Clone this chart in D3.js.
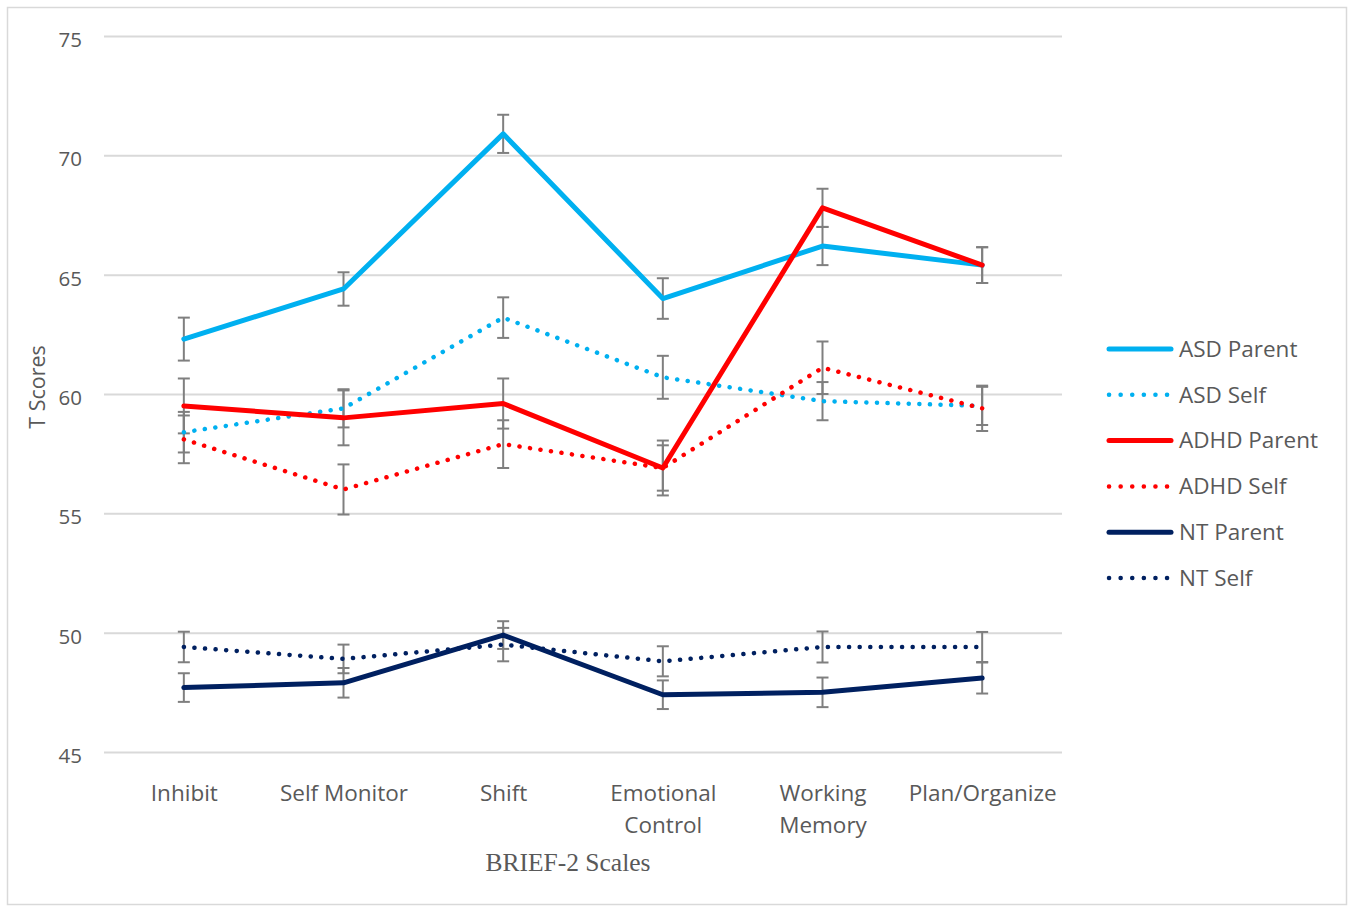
<!DOCTYPE html>
<html>
<head>
<meta charset="utf-8">
<script src="https://cdn.jsdelivr.net/npm/d3@7"></script>
<style>
  html, body { margin: 0; padding: 0; background: #fff; }
  svg { display: block; }
</style>
</head>
<body>
<svg id="chart" width="1353" height="908"></svg>
<script>
// BRIEF-2 T scores by group and informant
const categories = [["Inhibit"], ["Self Monitor"], ["Shift"], ["Emotional", "Control"], ["Working", "Memory"], ["Plan/Organize"]];
const seriesNames = ["ASD Parent", "ASD Self", "ADHD Parent", "ADHD Self", "NT Parent", "NT Self"];

const asdParent   = [62.3, 64.4, 70.9, 64.0, 66.2, 65.4];
const asdSelf     = [58.4, 59.4, 63.2, 60.7, 59.7, 59.5];
const adhdParent  = [59.5, 59.0, 59.6, 56.9, 67.8, 65.4];
const adhdSelf    = [58.1, 56.0, 57.9, 56.9, 61.1, 59.4];
const ntParent    = [47.7, 47.9, 49.9, 47.4, 47.5, 48.1];
const ntSelf      = [49.4, 48.9, 49.5, 48.8, 49.4, 49.4];

// error bar half-widths (± T score)
const asdParentErr  = [0.9, 0.7, 0.8, 0.85, 0.8, 0.75];
const asdSelfErr    = [0.85, 0.8, 0.85, 0.9, 0.8, 0.8];
const adhdParentErr = [1.15, 1.15, 1.05, 1.15, 0.8, 0.75];
const adhdSelfErr   = [1.0, 1.05, 1.0, 0.95, 1.1, 0.95];
const ntParentErr   = [0.6, 0.62, 0.58, 0.6, 0.62, 0.65];
const ntSelfErr     = [0.64, 0.6, 0.7, 0.63, 0.65, 0.63];

const yTicks = [45, 50, 55, 60, 65, 70, 75];

const series = [
  { name: seriesNames[0], values: asdParent,  err: asdParentErr,  color: "#00B0F0", dotted: false },
  { name: seriesNames[1], values: asdSelf,    err: asdSelfErr,    color: "#00B0F0", dotted: true },
  { name: seriesNames[2], values: adhdParent, err: adhdParentErr, color: "#FF0000", dotted: false },
  { name: seriesNames[3], values: adhdSelf,   err: adhdSelfErr,   color: "#FF0000", dotted: true },
  { name: seriesNames[4], values: ntParent,   err: ntParentErr,   color: "#002060", dotted: false },
  { name: seriesNames[5], values: ntSelf,     err: ntSelfErr,     color: "#002060", dotted: true }
];

const svg = d3.select("#chart");
const font = "'Open Sans', 'Noto Sans', sans-serif";
const textColor = "#595959";

// outer frame
svg.append("rect")
  .attr("x", 7.5).attr("y", 7.5)
  .attr("width", 1339).attr("height", 897)
  .attr("fill", "#fff").attr("stroke", "#d9d9d9").attr("stroke-width", 1.5);

const plot = { left: 104, right: 1062, top: 36, bottom: 752 };

const x = d3.scalePoint()
  .domain(d3.range(categories.length))
  .range([plot.left, plot.right])
  .padding(0.5);

const y = d3.scaleLinear()
  .domain([45, 75])
  .range([plot.bottom, plot.top]);

// gridlines + y labels
const yAxis = d3.axisLeft(y)
  .tickValues(yTicks)
  .tickSize(-(plot.right - plot.left))
  .tickPadding(22)
  .tickFormat(d3.format("d"));

const gy = svg.append("g")
  .attr("transform", `translate(${plot.left},0)`)
  .call(yAxis);
gy.select(".domain").remove();
gy.selectAll(".tick line").attr("stroke", "#d9d9d9").attr("stroke-width", 2);
gy.selectAll(".tick text")
  .attr("fill", textColor)
  .attr("y", 4)
  .style("font-family", font)
  .style("font-size", "20.5px");

// category labels
const xAxis = d3.axisBottom(x).tickSize(0).tickFormat("");
const gx = svg.append("g")
  .attr("transform", `translate(0,${plot.bottom})`)
  .call(xAxis);
gx.select(".domain").remove();
gx.selectAll(".tick").each(function(d) {
  const t = d3.select(this).append("text")
    .attr("fill", textColor)
    .attr("text-anchor", "middle")
    .style("font-family", font)
    .style("font-size", "22.5px");
  categories[d].forEach((line, i) => {
    t.append("tspan").attr("x", 0).attr("y", 49 + i * 32).text(line);
  });
});

// axis titles
svg.append("text")
  .attr("x", 568).attr("y", 871)
  .attr("text-anchor", "middle")
  .attr("fill", textColor)
  .style("font-family", "'Liberation Serif', 'DejaVu Serif', serif")
  .style("font-size", "25.5px")
  .text("BRIEF-2 Scales");

svg.append("text")
  .attr("transform", "translate(45,387) rotate(-90)")
  .attr("text-anchor", "middle")
  .attr("fill", textColor)
  .style("font-family", font)
  .style("font-size", "21.5px")
  .text("T Scores");

// error bars
const capHalf = 6;
const gErr = svg.append("g").attr("stroke", "#7f7f7f").attr("stroke-width", 2).attr("fill", "none");
series.forEach(s => {
  s.values.forEach((v, i) => {
    const cx = x(i), y0 = y(v - s.err[i]), y1 = y(v + s.err[i]);
    gErr.append("line").attr("x1", cx).attr("x2", cx).attr("y1", y0).attr("y2", y1);
    gErr.append("line").attr("x1", cx - capHalf).attr("x2", cx + capHalf).attr("y1", y0).attr("y2", y0);
    gErr.append("line").attr("x1", cx - capHalf).attr("x2", cx + capHalf).attr("y1", y1).attr("y2", y1);
  });
});

// series lines
const line = d3.line().x((d, i) => x(i)).y(d => y(d));
series.forEach(s => {
  const p = svg.append("path")
    .datum(s.values)
    .attr("d", line)
    .attr("fill", "none")
    .attr("stroke", s.color)
    .attr("stroke-linejoin", "round");
  if (s.dotted) {
    p.attr("stroke-width", 4.5).attr("stroke-linecap", "round").attr("stroke-dasharray", "0.1 10.5");
  } else {
    p.attr("stroke-width", 5).attr("stroke-linecap", "round");
  }
});

// legend
const legend = svg.append("g").attr("transform", "translate(1109,349)");
series.forEach((s, i) => {
  const g = legend.append("g").attr("transform", `translate(0,${i * 45.8})`);
  const l = g.append("line")
    .attr("x1", 0).attr("x2", 62).attr("y1", 0).attr("y2", 0)
    .attr("stroke", s.color)
    .attr("stroke-linecap", "round");
  if (s.dotted) l.attr("stroke-width", 4.5).attr("stroke-dasharray", "0.1 11.5");
  else l.attr("stroke-width", 5);
  g.append("text")
    .attr("x", 70).attr("y", 0).attr("dy", "0.35em")
    .attr("fill", textColor)
    .style("font-family", font)
    .style("font-size", "22.5px")
    .text(s.name);
});
</script>
</body>
</html>
